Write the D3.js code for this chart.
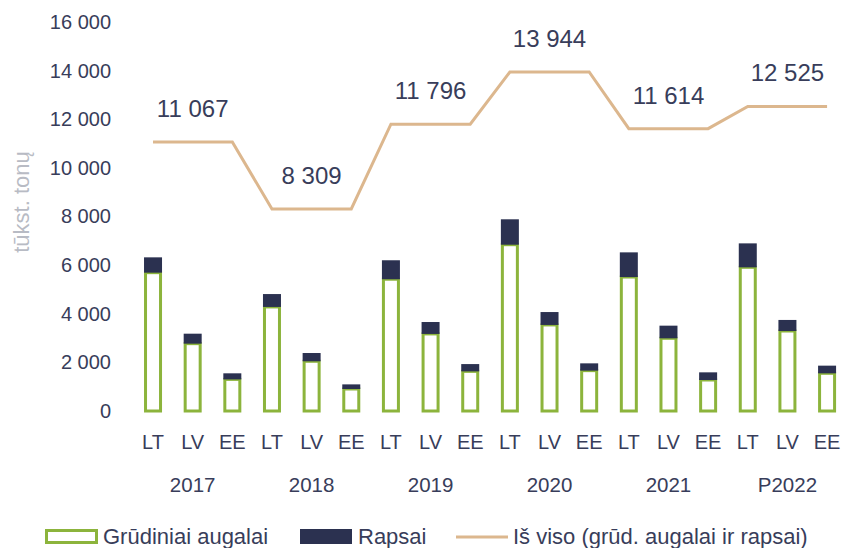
<!DOCTYPE html>
<html><head><meta charset="utf-8">
<script src="https://cdn.jsdelivr.net/npm/d3@7"></script>
<style>
html,body{margin:0;padding:0;background:#fff;}
svg{display:block;font-family:"Liberation Sans",Arial,sans-serif;}
</style></head>
<body>
<svg id="chart" width="841" height="548"></svg>
<script>
const countries = ["LT","LV","EE","LT","LV","EE","LT","LV","EE","LT","LV","EE","LT","LV","EE","LT","LV","EE"];
const years = ["2017","2018","2019","2020","2021","P2022"];
const grain = [5690, 2770, 1300, 4280, 2045, 905, 5420, 3170, 1630, 6840, 3540, 1660, 5510, 2990, 1275, 5910, 3290, 1550];
const rapeseed = [630, 410, 250, 530, 340, 190, 780, 490, 300, 1045, 530, 300, 1015, 520, 315, 985, 455, 315];
const yearTotals = [11067, 8309, 11796, 13944, 11614, 12525];
const yTicks = [0, 2000, 4000, 6000, 8000, 10000, 12000, 14000, 16000];

const textColor = "#383d5a";
const green = "#8cb43c";
const dark = "#2b3150";
const tan = "#dcb78e";

const svg = d3.select("#chart");
const idx = d3.range(countries.length);
const x = d3.scaleBand().domain(idx).range([133.2, 846.9]).paddingInner(0.546).paddingOuter(0.273);
const y = d3.scaleLinear().domain([0, 16000]).range([411, 22]);
const fmt = d3.formatLocale({decimal: ",", thousands: " ", grouping: [3], currency: ["", ""]}).format(",d");

// Y axis
const yAxis = svg.append("g").attr("transform", "translate(121,0)")
  .call(d3.axisLeft(y).tickValues(yTicks).tickSize(0).tickPadding(10).tickFormat(fmt));
yAxis.select(".domain").remove();
yAxis.selectAll("text").attr("font-size", 20).attr("fill", textColor).attr("font-family", "Liberation Sans, Arial, sans-serif");

// Y title
svg.append("text").attr("transform", "translate(29,202) rotate(-90)")
  .attr("text-anchor", "middle").attr("font-size", 22).attr("fill", "#b8bbc4").text("tūkst. tonų");

// Bars
const bw = x.bandwidth();
svg.append("g").selectAll("rect").data(idx).join("rect")
  .attr("x", i => x(i) + 1.5).attr("width", bw - 3)
  .attr("y", i => y(grain[i])).attr("height", i => y(0) - y(grain[i]))
  .attr("fill", "#fff").attr("stroke", green).attr("stroke-width", 3);
svg.append("g").selectAll("rect").data(idx).join("rect")
  .attr("x", i => x(i)).attr("width", bw)
  .attr("y", i => y(grain[i] + rapeseed[i])).attr("height", i => y(grain[i]) - y(grain[i] + rapeseed[i]))
  .attr("fill", dark);

// Line
const lineData = idx.map(i => ({i, v: yearTotals[Math.floor(i / 3)]}));
svg.append("path").datum(lineData)
  .attr("d", d3.line().x(d => x(d.i) + bw / 2).y(d => y(d.v)))
  .attr("fill", "none").attr("stroke", tan).attr("stroke-width", 3);

// Value labels
svg.append("g").selectAll("text").data(years).join("text")
  .attr("x", (d, k) => x(k * 3 + 1) + bw / 2)
  .attr("y", (d, k) => y(yearTotals[k]) - 25)
  .attr("text-anchor", "middle").attr("font-size", 24).attr("fill", textColor)
  .text((d, k) => fmt(yearTotals[k]));

// X labels
svg.append("g").selectAll("text").data(idx).join("text")
  .attr("x", i => x(i) + bw / 2).attr("y", 449)
  .attr("text-anchor", "middle").attr("font-size", 20).attr("fill", textColor)
  .text(i => countries[i]);
svg.append("g").selectAll("text").data(years).join("text")
  .attr("x", (d, k) => x(k * 3 + 1) + bw / 2).attr("y", 492)
  .attr("text-anchor", "middle").attr("font-size", 20.5).attr("fill", textColor)
  .text(d => d);

// Legend
const lg = svg.append("g");
lg.append("rect").attr("x", 46.5).attr("y", 530.5).attr("width", 50).attr("height", 12)
  .attr("fill", "#fff").attr("stroke", green).attr("stroke-width", 3);
lg.append("text").attr("x", 103).attr("y", 544).attr("font-size", 22).attr("fill", textColor).text("Grūdiniai augalai");
lg.append("rect").attr("x", 300).attr("y", 529).attr("width", 52).attr("height", 15).attr("fill", dark);
lg.append("text").attr("x", 358).attr("y", 544).attr("font-size", 22).attr("fill", textColor).text("Rapsai");
lg.append("line").attr("x1", 456).attr("x2", 508).attr("y1", 537).attr("y2", 537).attr("stroke", tan).attr("stroke-width", 3);
lg.append("text").attr("x", 513).attr("y", 544).attr("font-size", 22).attr("fill", textColor).text("Iš viso (grūd. augalai ir rapsai)");
</script>
</body></html>
